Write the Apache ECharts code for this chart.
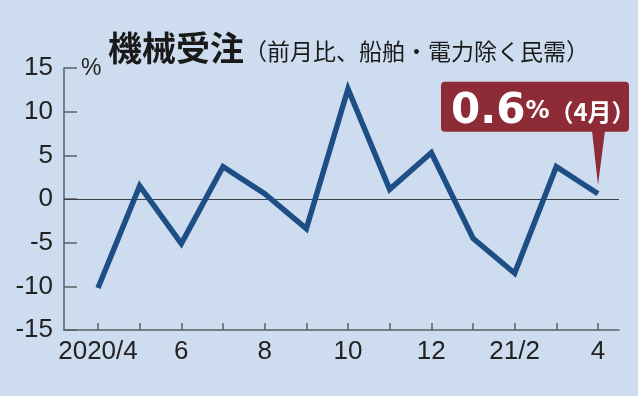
<!DOCTYPE html>
<html>
<head>
<meta charset="utf-8">
<script src="https://cdn.jsdelivr.net/npm/echarts@6/dist/echarts.min.js"></script>
<style>
html,body{margin:0;padding:0;background:#cddcee;}
#c{width:638px;height:396px;}
</style>
</head>
<body>
<div id="c"></div>
<script>
const months = ['2020/4','5','6','7','8','9','10','11','12','21/1','2','3','4'];
const values = [-10.2, 1.5, -5.1, 3.7, 0.6, -3.4, 12.6, 1.1, 5.3, -4.5, -8.5, 3.7, 0.6];
const labelIdx = [0, 2, 4, 6, 8, 10, 12];
const tickLabels = ['2020/4', '6', '8', '10', '12', '21/2', '4'];
const yTicks = [-15, -10, -5, 0, 5, 10, 15];
const titleMain = '機械受注';
const titleSub = '（前月比、船舶・電力除く民需）';
const unit = '%';
const callValue = '0.6';
const callMonth = '（4月）';

const latin = "'Liberation Sans',Arial,sans-serif";
const cjk = "'Noto Sans CJK JP','Noto Sans',sans-serif";
const chart = echarts.init(document.getElementById('c'), null, {renderer:'canvas'});
const seriesData = values.map((v, i) => [i, v]);
const unitGraphic = {
  type: 'text', left: 81, top: 57,
  style: {text: unit, fontFamily: latin, fontSize: 23, fill: '#222'}
};
chart.setOption({
  backgroundColor: '#cddcee',
  animation: false,
  title: {
    text: '{a|' + titleMain + '}{b|' + titleSub + '}',
    left: 103, top: 26,
    textStyle: {
      rich: {
        a: {fontFamily: cjk, fontSize: 34, fontWeight: 'bold', color: '#1a1a1a'},
        b: {fontFamily: cjk, fontSize: 23, fontWeight: 'normal', color: '#1a1a1a', padding: [6, 0, 0, 0]}
      }
    }
  },
  grid: {left: 64, right: 19, top: 68, bottom: 66, containLabel: false},
  xAxis: {
    type: 'value', min: -0.816, max: 12.504,
    axisLine: {show: true, onZero: false, lineStyle: {color: '#5a5f66', width: 1.5}},
    axisTick: {show: true, inside: true, length: 7, customValues: months.map((m, i) => i), lineStyle: {color: '#5a5f66', width: 1.5}},
    axisLabel: {customValues: labelIdx, formatter: v => tickLabels[labelIdx.indexOf(Math.round(v))], fontFamily: latin, fontSize: 26, color: '#222', margin: 9},
    splitLine: {show: false}
  },
  yAxis: {
    type: 'value', min: yTicks[0], max: yTicks[yTicks.length - 1], interval: 5,
    axisLine: {show: true, onZero: false, lineStyle: {color: '#5a5f66', width: 1.5}},
    axisTick: {show: true, inside: true, length: 13, lineStyle: {color: '#5a5f66', width: 1.5}},
    axisLabel: {fontFamily: latin, fontSize: 26, color: '#222', margin: 11},
    splitLine: {show: false}
  },
  graphic: [unitGraphic],
  series: [{
    type: 'line', data: seriesData, symbol: 'none',
    lineStyle: {color: '#1d4f86', width: 5.5, join: 'miter'},
    z: 3,
    markLine: {
      silent: true, symbol: 'none', label: {show: false},
      lineStyle: {color: '#3d4248', width: 1.2, type: 'solid'},
      data: [{yAxis: 0}], z: 2
    }
  }]
});

const p = chart.convertToPixel({xAxisIndex: 0, yAxisIndex: 0}, seriesData[seriesData.length - 1]);
const px = p[0], py = p[1];
const boxL = px - 157, boxT = py - 112, boxW = 188, boxH = 50;
chart.setOption({
  graphic: [unitGraphic, {
    type: 'rect', shape: {x: boxL, y: boxT, width: boxW, height: boxH, r: 4},
    style: {fill: '#8d2b36'}, z: 10
  }, {
    type: 'polygon', shape: {points: [[px - 6, boxT + boxH - 1], [px + 7, boxT + boxH - 1], [px, py - 9]]},
    style: {fill: '#8d2b36'}, z: 10
  }, {
    type: 'text', x: boxL + 10, y: boxT + 51, z: 11,
    style: {
      text: '{a|' + callValue + '}{b|%}{c|' + callMonth + '}',
      verticalAlign: 'bottom',
      fill: '#fff',
      rich: {
        a: {fontFamily: "'DejaVu Sans',sans-serif", fontSize: 42, fontWeight: 'bold', fill: '#fff', color: '#fff'},
        b: {fontFamily: "'DejaVu Sans',sans-serif", fontSize: 24, fontWeight: 'bold', fill: '#fff', color: '#fff'},
        c: {fontFamily: cjk, fontSize: 24, fontWeight: 'bold', fill: '#fff', color: '#fff', padding: [0, 0, 0, 0]}
      }
    }
  }]
});
</script>
</body>
</html>
